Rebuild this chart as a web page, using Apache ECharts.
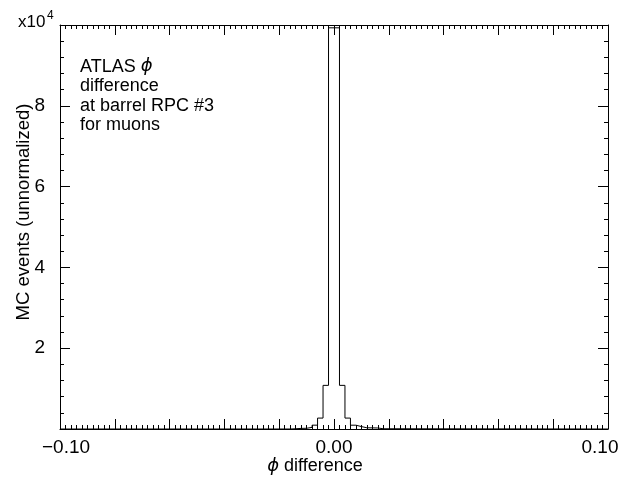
<!DOCTYPE html>
<html>
<head>
<meta charset="utf-8">
<script src="https://cdn.jsdelivr.net/npm/echarts@6/dist/echarts.min.js"></script>
<style>
  html, body { margin: 0; padding: 0; background: #fff; }
  #chart { width: 628px; height: 477px; }
</style>
</head>
<body>
<div id="chart"></div>
<script>
// Histogram of the phi difference at barrel RPC #3, bins 0.002 wide
const binWidth = 0.002;
const firstBinLow = -0.016;
const binCounts = [60, 150, 180, 400, 950, 2700, 10800, 99300, 99300, 10800, 2700, 940, 600, 300, 280, 250, 60];

const xRange = [-0.1, 0.1];
const xMajorStep = 0.02;
const yRange = [0, 100000];
const yMajorStep = 20000;

const xTickLabels = { '-0.1': '{l|−0.10}', '0': '{c|0.00}', '0.1': '{r|0.10}' };
const yTickLabels = ['2', '4', '6', '8'];
const yScaleLabel = 'x10';
const yScaleExponent = '4';
const xAxisTitle = '{i|ϕ} difference';
const yAxisTitle = 'MC events (unnormalized)';
const noteLines = ['ATLAS {i|ϕ}', 'difference', 'at barrel RPC #3', 'for muons'];

// Outline of the histogram: left bin edges with their counts, drawn as a step line
const outline = [[xRange[0], 0]];
binCounts.forEach((c, i) => {
  outline.push([+(firstBinLow + i * binWidth).toFixed(4), c]);
});
outline.push([+(firstBinLow + binCounts.length * binWidth).toFixed(4), 0]);
outline.push([xRange[1], 0]);

const FONT = 'Liberation Sans, Arial, Helvetica, sans-serif';
const BLACK = '#000';

function frameAxis(extra) {
  return Object.assign({
    type: 'value',
    axisLine: { show: true, onZero: false, lineStyle: { color: BLACK, width: 1 } },
    axisTick: { show: true, inside: true, length: 10, lineStyle: { color: BLACK, width: 1 } },
    minorTick: { show: true, length: 4, lineStyle: { color: BLACK, width: 1 } },
    splitLine: { show: false },
    minorSplitLine: { show: false }
  }, extra);
}

const chart = echarts.init(document.getElementById('chart'), null, { renderer: 'canvas' });

chart.setOption({
  animation: false,
  backgroundColor: '#fff',
  grid: { left: 60, top: 25, width: 548, height: 404, containLabel: false, outerBoundsMode: 'none' },
  xAxis: [
    frameAxis({
      position: 'bottom',
      min: xRange[0], max: xRange[1], interval: xMajorStep,
      minorTick: { show: true, splitNumber: 10, length: 4, lineStyle: { color: BLACK, width: 1 } },
      axisLabel: {
        show: true, margin: 9, hideOverlap: false, showMinLabel: true, showMaxLabel: true,
        color: BLACK, fontFamily: FONT, fontSize: 19,
        formatter: v => xTickLabels[String(Math.round(v * 100) / 100)] || '',
        rich: {
          l: { fontFamily: FONT, fontSize: 19, color: BLACK, padding: [0, 0, 0, 12] },
          c: { fontFamily: FONT, fontSize: 19, color: BLACK },
          r: { fontFamily: FONT, fontSize: 19, color: BLACK, padding: [0, 16, 0, 0] }
        }
      },
      name: xAxisTitle,
      nameLocation: 'middle',
      nameGap: 28,
      nameMoveOverlap: false,
      nameTextStyle: {
        color: BLACK, fontFamily: FONT, fontSize: 18, padding: [0, 38, 0, 0],
        rich: { i: { fontFamily: 'DejaVu Sans', fontStyle: 'italic', fontSize: 18, color: BLACK } }
      }
    }),
    frameAxis({
      position: 'top',
      min: xRange[0], max: xRange[1], interval: xMajorStep,
      minorTick: { show: true, splitNumber: 10, length: 4, lineStyle: { color: BLACK, width: 1 } },
      axisLabel: { show: false }
    })
  ],
  yAxis: [
    frameAxis({
      position: 'left',
      min: yRange[0], max: yRange[1], interval: yMajorStep,
      minorTick: { show: true, splitNumber: 5, length: 4, lineStyle: { color: BLACK, width: 1 } },
      axisLabel: {
        show: true, margin: 15, hideOverlap: false,
        color: BLACK, fontFamily: FONT, fontSize: 19,
        formatter: (v, i) => yTickLabels[i - 1] || ''
      },
      name: yAxisTitle,
      nameLocation: 'middle',
      nameGap: 27,
      nameMoveOverlap: false,
      nameRotate: 90,
      nameTextStyle: { color: BLACK, fontFamily: FONT, fontSize: 18.5, padding: [0, 0, 0, 30] }
    }),
    frameAxis({
      position: 'right',
      min: yRange[0], max: yRange[1], interval: yMajorStep,
      minorTick: { show: true, splitNumber: 5, length: 4, lineStyle: { color: BLACK, width: 1 } },
      axisLabel: { show: false }
    })
  ],
  series: [{
    type: 'line',
    xAxisIndex: 0,
    yAxisIndex: 0,
    step: 'end',
    data: outline,
    showSymbol: false,
    symbol: 'none',
    clip: true,
    lineStyle: { color: BLACK, width: 1 },
    z: 3
  }],
  graphic: [
    {
      type: 'text', left: 18, top: 14,
      style: { text: yScaleLabel, fill: BLACK, font: '17px ' + FONT }
    },
    {
      type: 'text', left: 47, top: 10,
      style: { text: yScaleExponent, fill: BLACK, font: '12px ' + FONT }
    },
    {
      type: 'text', left: 80, top: 57,
      style: {
        text: noteLines.join('\n'),
        fill: BLACK,
        font: '18px ' + FONT,
        lineHeight: 19.5,
        rich: {
          i: { fontFamily: 'DejaVu Sans', fontStyle: 'italic', fontSize: 18, fill: BLACK, lineHeight: 19.5 }
        }
      }
    }
  ]
});
</script>
</body>
</html>
